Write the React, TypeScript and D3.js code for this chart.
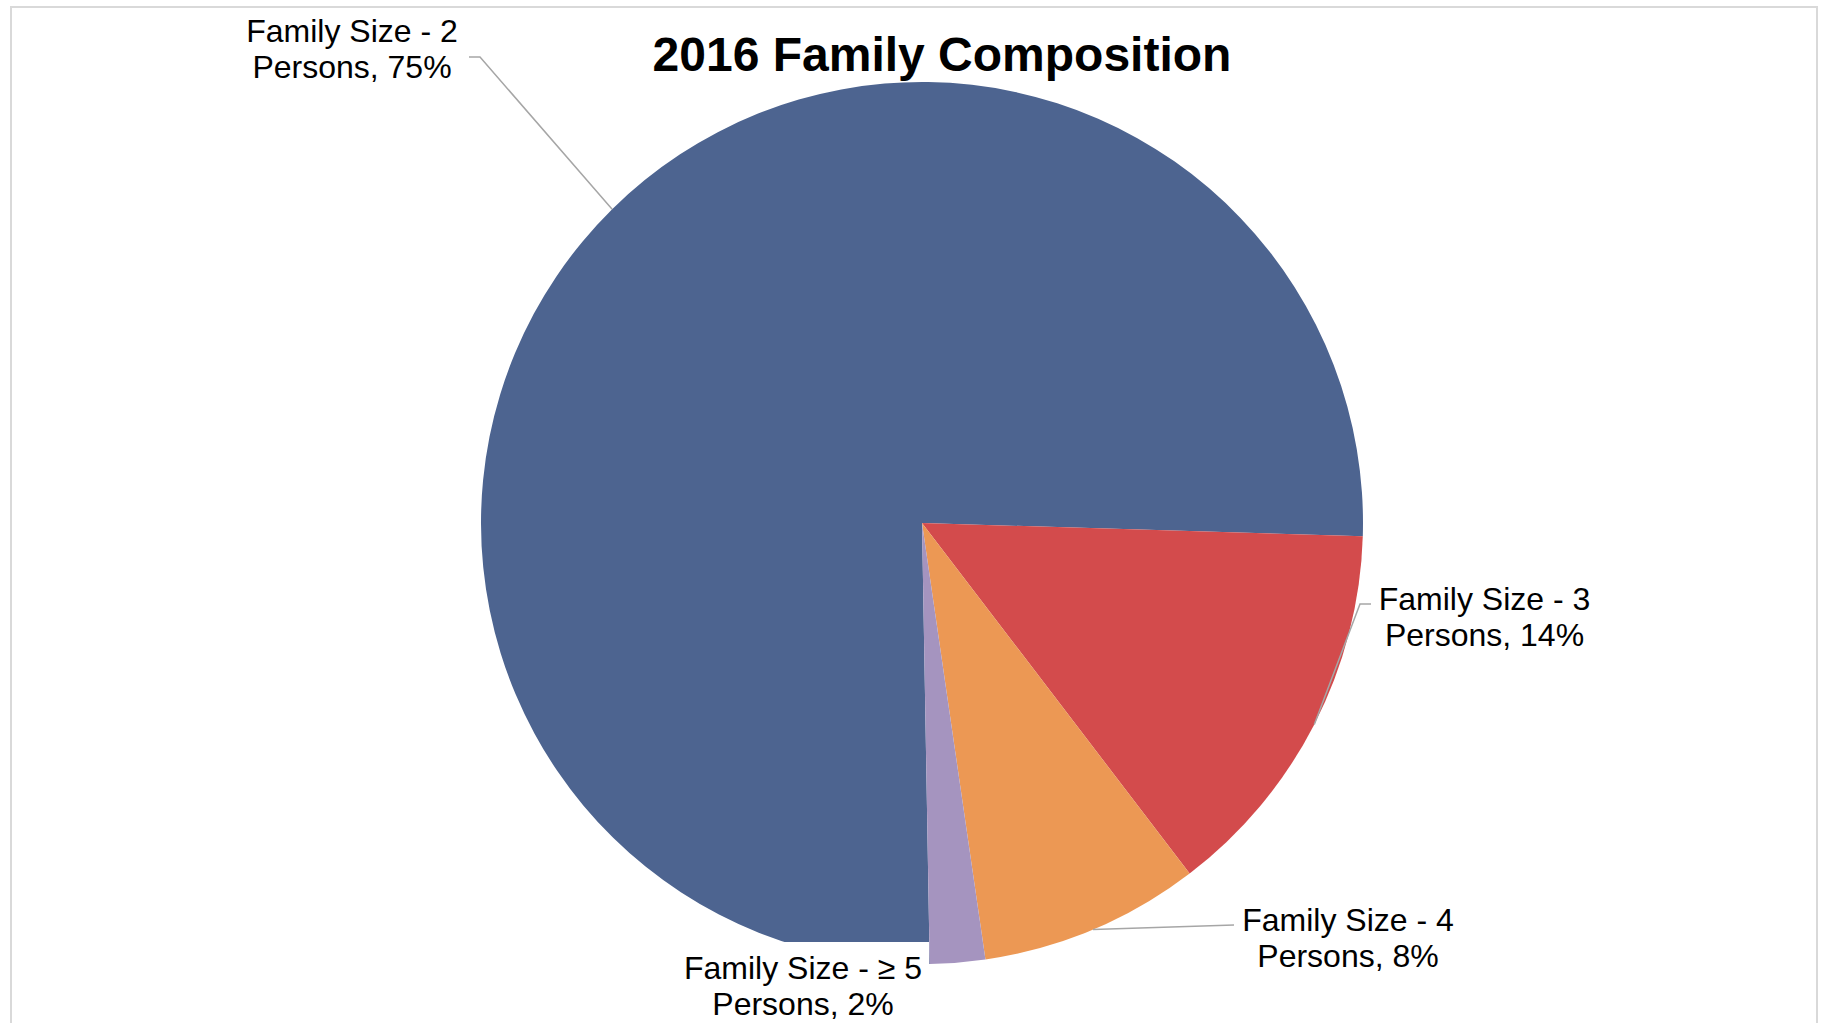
import React from "react";
import * as d3 from "d3";

const categories = ["Family Size - 2", "Family Size - 3", "Family Size - 4", "Family Size - ≥ 5"];
const secondLines = ["Persons, 75%", "Persons, 14%", "Persons, 8%", "Persons, 2%"];
const values = [75, 14, 8, 2];
const colors = ["#4D6490", "#D34B4C", "#EC9854", "#A594BF"];

const W = 1824;
const H = 1023;
const cx = 922;
const cy = 523;
const R = 441;
const startDeg = 179;

// label layout: centre x, first baseline y, elbow point (or null)
const labelLayout = [
  { x: 352, y: 42, elbow: [[469, 57], [480, 57]] },
  { x: 1484.5, y: 610, elbow: [[1371, 604], [1360, 604]] },
  { x: 1348, y: 931, elbow: [[1234, 925]] },
  { x: 803, y: 979, elbow: null, box: { x: 676, y: 942, w: 253, h: 100 } },
];

export default function App() {
  const pie = d3
    .pie<number>()
    .sort(null)
    .value((d) => d)
    .startAngle((startDeg * Math.PI) / 180)
    .endAngle((startDeg * Math.PI) / 180 + 2 * Math.PI);
  const arcs = pie(values);
  const arcGen = d3.arc<d3.PieArcDatum<number>>().innerRadius(0).outerRadius(R);

  const edgePoint = (a: d3.PieArcDatum<number>) => {
    const m = (a.startAngle + a.endAngle) / 2;
    return [cx + R * Math.sin(m), cy - R * Math.cos(m)];
  };

  return (
    <svg
      width={W}
      height={H}
      style={{ position: "absolute", left: 0, top: 0, background: "#fff" }}
      fontFamily="'Liberation Sans', Arial, sans-serif"
    >
      <rect x={0} y={0} width={W} height={H} fill="#fff" />
      <rect x={11} y={7} width={1806} height={1100} fill="#fff" stroke="#D9D9D9" strokeWidth={2} />
      <g transform={`translate(${cx},${cy})`}>
        {arcs.map((a, i) => (
          <path key={i} d={arcGen(a) || ""} fill={colors[i]} />
        ))}
      </g>
      {arcs.map((a, i) => {
        const L = labelLayout[i];
        if (!L.elbow) return null;
        const pts = [...L.elbow, edgePoint(a)];
        const line = d3.line()(pts as [number, number][]) || "";
        return <path key={"l" + i} d={line} fill="none" stroke="#A6A6A6" strokeWidth={1.5} />;
      })}
      {categories.map((c, i) => {
        const L = labelLayout[i];
        return (
          <g key={"t" + i}>
            {L.box && <rect x={L.box.x} y={L.box.y} width={L.box.w} height={L.box.h} fill="#fff" />}
            <text x={L.x} y={L.y} textAnchor="middle" fontSize={32} fill="#000">
              {c}
            </text>
            <text x={L.x} y={L.y + 35.5} textAnchor="middle" fontSize={32} fill="#000">
              {secondLines[i]}
            </text>
          </g>
        );
      })}
      <text x={942} y={71} textAnchor="middle" fontSize={48} fontWeight="bold" fill="#000">
        2016 Family Composition
      </text>
    </svg>
  );
}
